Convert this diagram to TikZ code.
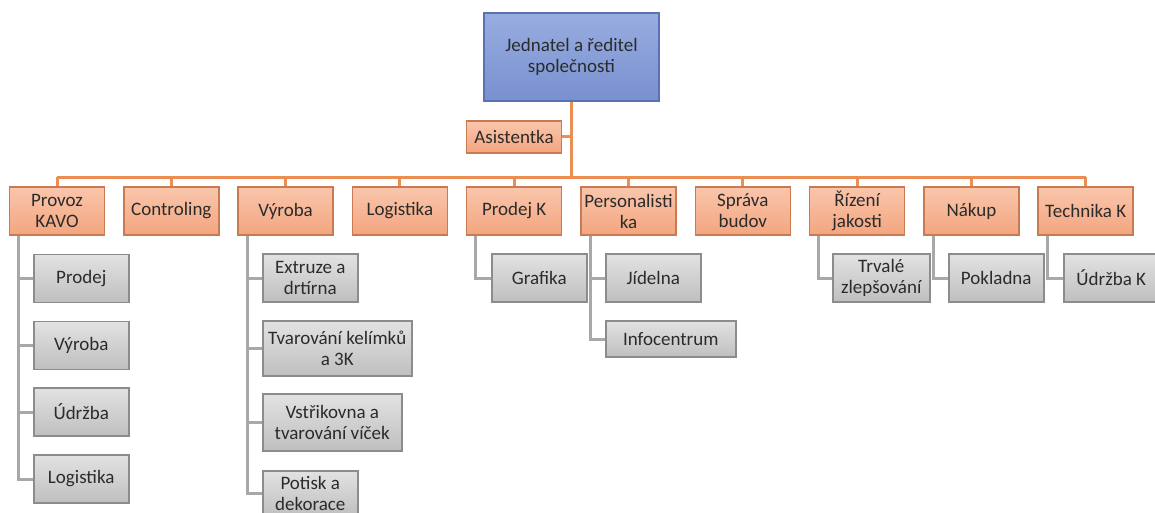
\documentclass[tikz,border=0pt]{standalone}
\usepackage{fontspec}
\setmainfont{Carlito}
\definecolor{headtop}{HTML}{98ADE0}
\definecolor{headbot}{HTML}{7890CF}
\definecolor{headline}{HTML}{5A72B4}
\definecolor{depttop}{HTML}{FAC6AC}
\definecolor{deptbot}{HTML}{F3A57F}
\definecolor{deptline}{HTML}{C97A50}
\definecolor{subtop}{HTML}{E2E2E2}
\definecolor{subbot}{HTML}{BFBFBF}
\definecolor{subline}{HTML}{8C8C8C}
\definecolor{orgcol}{HTML}{EC8E52}
\definecolor{conncol}{HTML}{A8A8A8}
\definecolor{inktext}{HTML}{2B2B2B}
\begin{document}
\begin{tikzpicture}
[x=1pt,y=-1pt,
 every node/.style={font=\fontsize{19}{21}\selectfont,text=inktext,align=center,inner sep=2pt},
 headbox/.style={draw=headline,line width=1.5pt,top color=headtop,bottom color=headbot,minimum width=175pt,minimum height=88pt},
 deptbox/.style={draw=deptline,line width=1.5pt,top color=depttop,bottom color=deptbot,minimum width=95pt,minimum height=48pt},
 subbox/.style={draw=subline,line width=1.5pt,top color=subtop,bottom color=subbot,minimum width=95pt,minimum height=48pt,anchor=west},
 orgline/.style={draw=orgcol,line width=3pt},
 subconn/.style={draw=conncol,line width=3pt}]
\useasboundingbox (0,0) rectangle (1155,513);
\clip (0,0) rectangle (1155,513);
%% top of the chart
\node[headbox] (head) at (571.5,57) {Jednatel a ředitel\\společnosti};
\node[deptbox,minimum height=32pt] (asist) at (514,137) {Asistentka};
\coordinate (hub) at (571.5,177);
\foreach \n/\txt [count=\i from 0] in {kavo/{Provoz\\KAVO}, contr/Controling,
  vyroba/Výroba, logist/Logistika, prodk/Prodej K, person/{Personalisti\\ka},
  sprava/{Správa\\budov}, rizeni/{Řízení\\jakosti}, nakup/Nákup, techk/Technika K}
  \node[deptbox] (\n) at (57+114.3*\i,211) {\txt};
\draw[orgline] (head.south) -- (hub);
\draw[orgline] (asist.east) -- (asist.east -| hub);
\draw[orgline] (hub -| kavo) -- (hub -| techk);
\foreach \n in {kavo,contr,vyroba,logist,prodk,person,sprava,rizeni,nakup,techk}
  \draw[orgline] (hub -| \n) -- (\n.north);
%% second level
\node[subbox] (kavo1) at (33,278.5) {Prodej};
\node[subbox] (kavo2) at (33,345.5) {Výroba};
\node[subbox] (kavo3) at (33,412) {Údržba};
\node[subbox] (kavo4) at (33,479) {Logistika};
\node[subbox] (vyroba1) at (262,278) {Extruze a\\drtírna};
\node[subbox,minimum width=149pt,minimum height=55pt] (vyroba2) at (262,348.5) {Tvarování kelímků\\a 3K};
\node[subbox,minimum width=139pt,minimum height=57pt] (vyroba3) at (262,422.5) {Vstřikovna a\\tvarování víček};
\node[subbox,minimum height=45pt] (vyroba4) at (262,493.5) {Potisk a\\dekorace};
\node[subbox] (prodk1) at (491,278) {Grafika};
\node[subbox] (person1) at (605,278) {Jídelna};
\node[subbox,minimum width=130pt,minimum height=36pt] (person2) at (605,339) {Infocentrum};
\node[subbox,minimum width=97pt] (rizeni1) at (832,278) {Trvalé\\zlepšování};
\node[subbox] (nakup1) at (948,278) {Pokladna};
\node[subbox] (techk1) at (1063,278) {Údržba K};
%% gray connectors
\foreach \n/\kids in {kavo/{kavo1,kavo2,kavo3,kavo4}, vyroba/{vyroba1,vyroba2,vyroba3,vyroba4},
  prodk/{prodk1}, person/{person1,person2}, rizeni/{rizeni1}, nakup/{nakup1}, techk/{techk1}} {
  \coordinate (\n-l) at ([xshift=10pt]\n.south west);
  \foreach \c in \kids
    \draw[subconn] (\n-l) |- (\c.west);
}
\end{tikzpicture}
\end{document}
